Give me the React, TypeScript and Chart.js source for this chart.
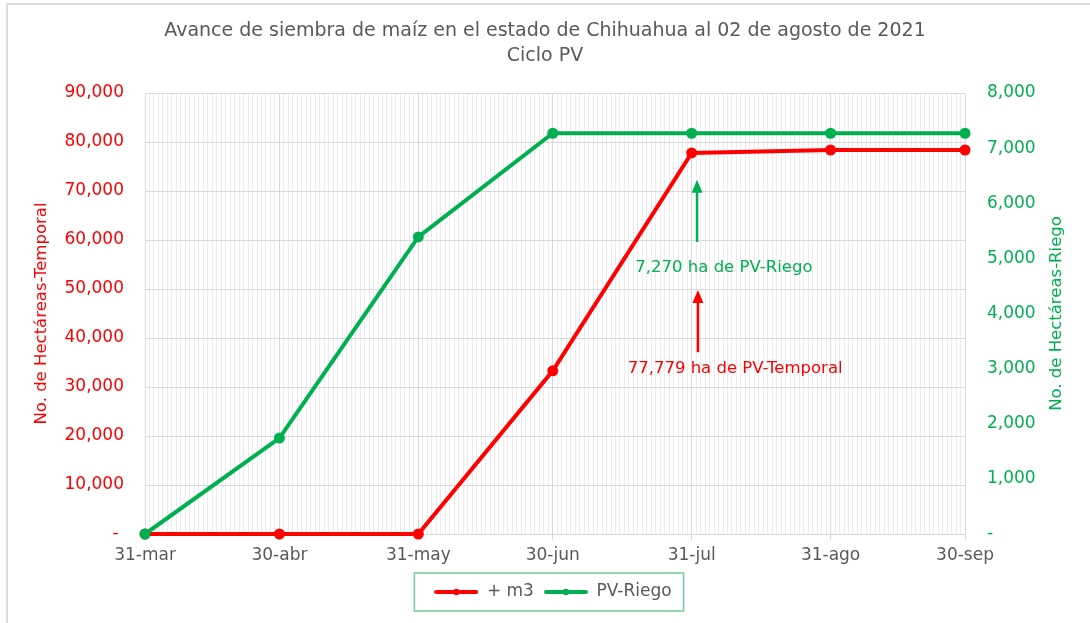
import React, { useEffect, useRef } from 'react';
import { Chart, registerables } from 'chart.js';

Chart.register(...registerables);

// ---- data ----
const DATE_LABELS = ['31-mar', '30-abr', '31-may', '30-jun', '31-jul', '31-ago', '30-sep'];
const DAY_OFFSETS = [0, 30, 61, 91, 122, 153, 183]; // days since 31-mar
const TEMPORAL = [0, 0, 0, 33300, 77779, 78370, 78370];
const RIEGO = [0, 1740, 5390, 7270, 7270, 7270, 7270];
const TITLE_LINES = ['Avance de siembra de maíz en el estado de Chihuahua al 02 de agosto de 2021', 'Ciclo PV'];
const LEFT_AXIS_TITLE = 'No. de Hectáreas-Temporal';
const RIGHT_AXIS_TITLE = 'No. de Hectáreas-Riego';
const NOTE_RIEGO = '7,270 ha de PV-Riego';
const NOTE_TEMPORAL = '77,779 ha de PV-Temporal';
const SERIES_NAMES = ['+ m3', 'PV-Riego'];

const RED = '#ff0000';
const GREEN = '#00b050';
const GRAY_TEXT = '#595959';
const FONT = '"DejaVu Sans", sans-serif';

function legendIcon(color: string): HTMLCanvasElement {
  const c = document.createElement('canvas');
  c.width = 44;
  c.height = 10;
  const g = c.getContext('2d')!;
  g.strokeStyle = color;
  g.lineWidth = 4;
  g.lineCap = 'round';
  g.beginPath();
  g.moveTo(2, 5);
  g.lineTo(42, 5);
  g.stroke();
  g.fillStyle = color;
  g.beginPath();
  g.arc(22, 5, 3.2, 0, Math.PI * 2);
  g.fill();
  return c;
}

const decoPlugin = {
  id: 'deco',
  afterLayout(chart: any) {
    const lg = chart.legend;
    if (lg) {
      lg.left += 8;
      lg.right += 8;
    }
  },
  beforeDraw(chart: any) {
    const ctx = chart.ctx;
    ctx.save();
    ctx.fillStyle = '#ffffff';
    ctx.fillRect(0, 0, chart.width, chart.height);
    ctx.strokeStyle = '#dedede';
    ctx.lineWidth = 2;
    ctx.beginPath();
    ctx.moveTo(7, chart.height);
    ctx.lineTo(7, 4);
    ctx.lineTo(chart.width, 4);
    ctx.stroke();
    ctx.restore();
  },
  afterDraw(chart: any) {
    const ctx = chart.ctx;
    const x = chart.scales.x;
    const y = chart.scales.y;
    const area = chart.chartArea;
    ctx.save();
    // axis titles
    const mid = (area.top + area.bottom) / 2;
    ctx.font = `16.5px ${FONT}`;
    ctx.textAlign = 'center';
    ctx.textBaseline = 'middle';
    ctx.fillStyle = RED;
    ctx.save();
    ctx.translate(42, mid);
    ctx.rotate(-Math.PI / 2);
    ctx.fillText(LEFT_AXIS_TITLE, 0, 0);
    ctx.restore();
    ctx.fillStyle = GREEN;
    ctx.save();
    ctx.translate(1057, mid);
    ctx.rotate(-Math.PI / 2);
    ctx.fillText(RIGHT_AXIS_TITLE, 0, 0);
    ctx.restore();

    // arrows
    const arrow = (color: string, day: number, tail: number, tip: number) => {
      const ax = x.getPixelForValue(day);
      const yTail = y.getPixelForValue(tail);
      const yTip = y.getPixelForValue(tip);
      ctx.strokeStyle = color;
      ctx.fillStyle = color;
      ctx.lineWidth = 2.5;
      ctx.beginPath();
      ctx.moveTo(ax, yTail);
      ctx.lineTo(ax, yTip + 10);
      ctx.stroke();
      ctx.beginPath();
      ctx.moveTo(ax, yTip);
      ctx.lineTo(ax - 5.5, yTip + 13);
      ctx.lineTo(ax + 5.5, yTip + 13);
      ctx.closePath();
      ctx.fill();
    };
    arrow(GREEN, 123.2, 59600, 72300);
    arrow(RED, 123.4, 37100, 49800);
    ctx.font = `16.5px ${FONT}`;
    ctx.fillStyle = GREEN;
    ctx.fillText(NOTE_RIEGO, x.getPixelForValue(129.2), y.getPixelForValue(54300));
    ctx.fillStyle = RED;
    ctx.fillText(NOTE_TEMPORAL, x.getPixelForValue(131.7), y.getPixelForValue(33700));

    // legend border
    const boxes = chart.legend?.legendHitBoxes || [];
    if (boxes.length) {
      let l = Infinity, r = -Infinity, t = Infinity, b = -Infinity;
      boxes.forEach((h: any) => {
        l = Math.min(l, h.left);
        r = Math.max(r, h.left + h.width);
        t = Math.min(t, h.top);
        b = Math.max(b, h.top + h.height);
      });
      const cy = (t + b) / 2;
      ctx.strokeStyle = '#72cc98';
      ctx.lineWidth = 1.5;
      ctx.strokeRect(l - 20, cy - 19, r - l + 32, 38);
    }
    ctx.restore();
  },
};

export default function App() {
  const ref = useRef<HTMLCanvasElement | null>(null);

  useEffect(() => {
    if (!ref.current) return;
    const icons = [legendIcon(RED), legendIcon(GREEN)];
    const isMajor = (v: any) => DAY_OFFSETS.includes(v);
    const chart = new Chart(ref.current, {
      type: 'line',
      data: {
        datasets: [
          {
            label: SERIES_NAMES[0],
            data: DAY_OFFSETS.map((d, i) => ({ x: d, y: TEMPORAL[i] })),
            borderColor: RED,
            backgroundColor: RED,
            borderWidth: 4,
            pointRadius: 5.5,
            pointBorderWidth: 0,
            pointBackgroundColor: RED,
            yAxisID: 'y',
            tension: 0,
            clip: false,
            order: 1,
          },
          {
            label: SERIES_NAMES[1],
            data: DAY_OFFSETS.map((d, i) => ({ x: d, y: RIEGO[i] })),
            borderColor: GREEN,
            backgroundColor: GREEN,
            borderWidth: 4,
            pointRadius: 5.5,
            pointBorderWidth: 0,
            pointBackgroundColor: GREEN,
            yAxisID: 'y1',
            tension: 0,
            clip: false,
            order: 0,
          },
        ],
      },
      options: {
        animation: false,
        responsive: true,
        maintainAspectRatio: false,
        layout: { padding: { left: 0, right: 0, top: 0, bottom: 12.5 } },
        plugins: {
          tooltip: { enabled: false },
          title: {
            display: true,
            text: TITLE_LINES,
            color: GRAY_TEXT,
            font: { family: FONT, size: 19, weight: 'normal', lineHeight: 1.316 },
            padding: { top: 18.5, bottom: 24.5 },
          },
          legend: {
            display: true,
            position: 'bottom',
            labels: {
              color: GRAY_TEXT,
              font: { family: FONT, size: 17 },
              usePointStyle: true,
              pointStyleWidth: 44,
              boxHeight: 10,
              padding: 10,
              generateLabels: (c: any) =>
                c.data.datasets.map((ds: any, i: number) => ({
                  text: ds.label,
                  pointStyle: icons[i],
                  fillStyle: ds.borderColor,
                  strokeStyle: ds.borderColor,
                  fontColor: GRAY_TEXT,
                  lineWidth: 0,
                  hidden: false,
                  datasetIndex: i,
                })),
            },
          },
        },
        scales: {
          x: {
            type: 'linear',
            min: 0,
            max: DAY_OFFSETS[DAY_OFFSETS.length - 1],
            afterBuildTicks: (s: any) => {
              const ticks: any[] = [];
              for (let d = 0; d <= DAY_OFFSETS[DAY_OFFSETS.length - 1]; d++) ticks.push({ value: d });
              s.ticks = ticks;
            },
            afterFit: (s: any) => {
              s.height = 39.5;
            },
            ticks: {
              autoSkip: false,
              maxRotation: 0,
              minRotation: 0,
              padding: 5,
              color: GRAY_TEXT,
              font: { family: FONT, size: 17 },
              callback: (v: any) => {
                const i = DAY_OFFSETS.indexOf(v);
                return i >= 0 ? DATE_LABELS[i] : '';
              },
            },
            grid: {
              color: (c: any) => (isMajor(c.tick?.value) ? '#d9d9d9' : '#ececec'),
              tickColor: (c: any) => (isMajor(c.tick?.value) ? '#d9d9d9' : 'rgba(0,0,0,0)'),
              tickLength: 6,
              lineWidth: 1,
            },
            border: { color: '#d9d9d9' },
          },
          y: {
            position: 'left',
            min: 0,
            max: 90000,
            afterFit: (s: any) => {
              s.width = 145;
            },
            ticks: {
              stepSize: 10000,
              color: RED,
              padding: 21,
              font: { family: FONT, size: 17 },
              callback: (v: any) => (v === 0 ? '- ' : Number(v).toLocaleString('en-US')),
            },
            grid: { color: '#d9d9d9', drawTicks: false },
            border: { display: false },
          },
          y1: {
            position: 'right',
            min: 0,
            max: 8000,
            afterFit: (s: any) => {
              s.width = 125;
            },
            ticks: {
              stepSize: 1000,
              color: GREEN,
              padding: 22,
              font: { family: FONT, size: 17 },
              callback: (v: any) => (v === 0 ? '-' : Number(v).toLocaleString('en-US')),
            },
            grid: { drawOnChartArea: false, drawTicks: false },
            border: { display: false },
          },
        },
      } as any,
      plugins: [decoPlugin],
    });
    return () => chart.destroy();
  }, []);

  return (
    <div style={{ position: 'absolute', left: 0, top: 0, width: 1090, height: 623, background: '#fff' }}>
      <canvas ref={ref} />
    </div>
  );
}
